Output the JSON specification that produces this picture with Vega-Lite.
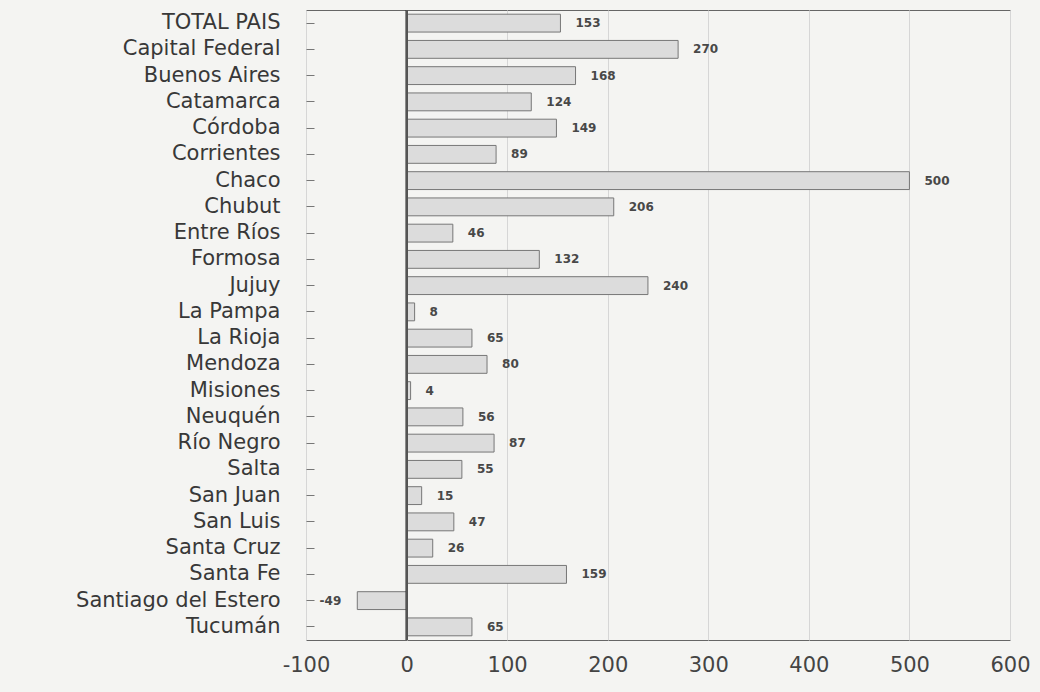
{
  "$schema": "https://vega.github.io/schema/vega-lite/v6.json",
  "width": 704,
  "height": 630,
  "autosize": {"type": "none"},
  "padding": {"left": 306, "top": 10, "right": 30, "bottom": 52},
  "background": "#f4f4f2",
  "config": {
    "view": {"stroke": "#666", "strokeWidth": 1},
    "font": "DejaVu Sans"
  },
  "data": {
    "values": [
      {"provincia": "TOTAL PAIS", "valor": 153},
      {"provincia": "Capital Federal", "valor": 270},
      {"provincia": "Buenos Aires", "valor": 168},
      {"provincia": "Catamarca", "valor": 124},
      {"provincia": "Córdoba", "valor": 149},
      {"provincia": "Corrientes", "valor": 89},
      {"provincia": "Chaco", "valor": 500},
      {"provincia": "Chubut", "valor": 206},
      {"provincia": "Entre Ríos", "valor": 46},
      {"provincia": "Formosa", "valor": 132},
      {"provincia": "Jujuy", "valor": 240},
      {"provincia": "La Pampa", "valor": 8},
      {"provincia": "La Rioja", "valor": 65},
      {"provincia": "Mendoza", "valor": 80},
      {"provincia": "Misiones", "valor": 4},
      {"provincia": "Neuquén", "valor": 56},
      {"provincia": "Río Negro", "valor": 87},
      {"provincia": "Salta", "valor": 55},
      {"provincia": "San Juan", "valor": 15},
      {"provincia": "San Luis", "valor": 47},
      {"provincia": "Santa Cruz", "valor": 26},
      {"provincia": "Santa Fe", "valor": 159},
      {"provincia": "Santiago del Estero", "valor": -49},
      {"provincia": "Tucumán", "valor": 65}
    ]
  },
  "encoding": {
    "y": {
      "field": "provincia", "type": "nominal", "sort": null,
      "scale": {"paddingInner": 0.32, "paddingOuter": 0.16},
      "axis": {
        "title": null, "domain": false, "ticks": true, "tickSize": -8,
        "tickColor": "#777", "labelFontSize": 21, "labelColor": "#383838",
        "labelPadding": 34, "labelLimit": 320
      }
    }
  },
  "layer": [
    {
      "mark": {"type": "bar", "fill": "#dcdcdc", "stroke": "#777", "strokeWidth": 1},
      "encoding": {
        "x": {
          "field": "valor", "type": "quantitative",
          "scale": {"domain": [-100, 600], "nice": false},
          "axis": {
            "title": null, "values": [-100, 0, 100, 200, 300, 400, 500, 600],
            "domain": false, "ticks": false, "grid": true, "gridColor": "#d6d6d6",
            "labelFontSize": 21, "labelColor": "#444", "labelPadding": 14,
            "labelFlush": false, "labelExpr": "toString(datum.value)"
          }
        }
      }
    },
    {
      "mark": {"type": "rule", "color": "#555", "strokeWidth": 1.2},
      "encoding": {"x": {"datum": 0, "type": "quantitative"}, "y": null}
    },
    {
      "transform": [{"filter": "datum.valor >= 0"}],
      "mark": {"type": "text", "align": "left", "dx": 15, "fontSize": 12, "fontWeight": "bold", "color": "#484848"},
      "encoding": {
        "x": {"field": "valor", "type": "quantitative"},
        "text": {"field": "valor", "type": "nominal"}
      }
    },
    {
      "transform": [{"filter": "datum.valor < 0"}],
      "mark": {"type": "text", "align": "right", "dx": -16, "fontSize": 12, "fontWeight": "bold", "color": "#484848"},
      "encoding": {
        "x": {"field": "valor", "type": "quantitative"},
        "text": {"field": "valor", "type": "nominal"}
      }
    }
  ]
}
